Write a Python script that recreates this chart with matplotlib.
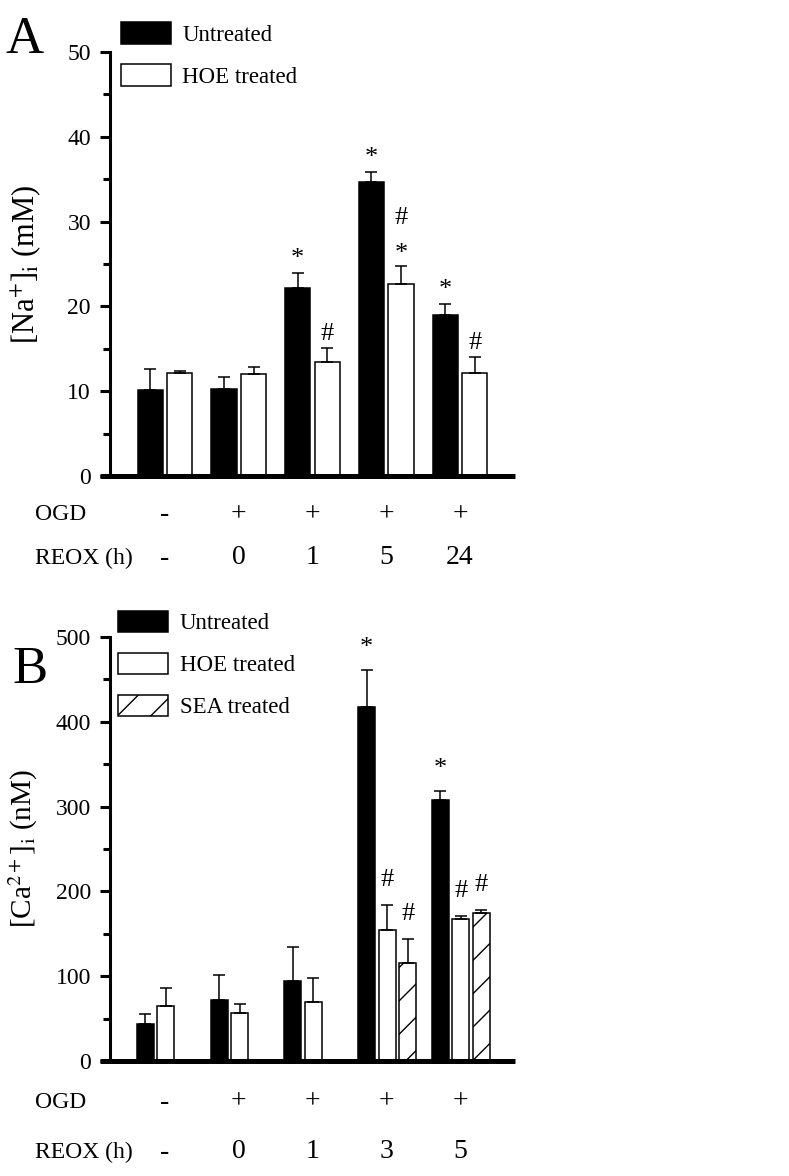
import numpy as np
import matplotlib
matplotlib.use("agg")
import matplotlib.pyplot as plt
from matplotlib.transforms import blended_transform_factory

plt.rcParams['font.family'] = ['Liberation Serif', 'DejaVu Serif']
plt.rcParams['mathtext.fontset'] = 'stix'
plt.rcParams['hatch.linewidth'] = 1.0

# ---- panel A : [Na+]i ----
na_untreated = [10.1, 10.3, 22.2, 34.7, 19.0]
na_untreated_err = [2.5, 1.4, 1.7, 1.1, 1.3]
na_hoe = [12.2, 12.0, 13.4, 22.6, 12.2]
na_hoe_err = [0.2, 0.8, 1.7, 2.2, 1.8]
na_marks_untreated = ['', '', '*', '*', '*']
na_marks_hoe = ['', '', '#', '*#', '#']
na_ogd = ['-', '+', '+', '+', '+']
na_reox = ['-', '0', '1', '5', '24']

# ---- panel B : [Ca2+]i ----
ca_untreated = [44, 72, 94, 417, 308]
ca_untreated_err = [12, 30, 40, 44, 10]
ca_hoe = [65, 57, 69, 155, 167]
ca_hoe_err = [21, 10, 29, 29, 4]
ca_sea = [np.nan, np.nan, np.nan, 116, 175]
ca_sea_err = [np.nan, np.nan, np.nan, 28, 3]
ca_marks_untreated = ['', '', '', '*', '*']
ca_marks_hoe = ['', '', '', '#', '#']
ca_marks_sea = ['', '', '', '#', '#']
ca_ogd = ['-', '+', '+', '+', '+']
ca_reox = ['-', '0', '1', '3', '5']

W, H = 789, 1176
fig = plt.figure(figsize=(W / 100, H / 100), dpi=100)


def pt(p):
    # pixels -> points at 100 dpi
    return p * 0.72


def setup(ax, ymax, major, minor):
    ax.set_xlim(-0.746, 4.746)
    ax.set_ylim(0, ymax)
    for s in ['top', 'right', 'bottom']:
        ax.spines[s].set_visible(False)
    ax.spines['left'].set_linewidth(2.2)
    ax.set_xticks([])
    ax.set_yticks(np.arange(0, ymax + 1, major))
    ax.set_yticks(np.arange(0, ymax + 1, minor), minor=True)
    ax.tick_params(axis='y', which='major', direction='out', length=pt(10),
                   width=2.2, labelsize=17, pad=pt(9))
    ax.tick_params(axis='y', which='minor', direction='out', length=pt(7),
                   width=2.2)
    ax.plot([-0.88, 4.746], [0, 0], color='k', lw=3.6, clip_on=False,
            solid_capstyle='butt', zorder=6)


def bars(ax, x, vals, errs, marks, width, base, label, **kw):
    x = np.asarray(x, float)
    vals = np.asarray(vals, float)
    errs = np.asarray(errs, float)
    ok = ~np.isnan(vals)
    ax.bar(x[ok], vals[ok], width, edgecolor='k', linewidth=1.1,
           label=label, zorder=3, **kw)
    ax.errorbar(x[ok], vals[ok], yerr=[np.zeros(ok.sum()), errs[ok]],
                fmt='none', ecolor='k', elinewidth=1.1, capsize=pt(6),
                capthick=1.1, zorder=4)
    for xi, v, e, m in zip(x, vals, errs, marks):
        off = base
        for sym in m:
            shift = -10 if sym == '*' else -8
            ax.annotate(sym, xy=(xi, v + e), xytext=(0, pt(off + shift)),
                        textcoords='offset points', ha='center',
                        va='baseline', fontsize=19)
            off += 34


def rows(ax, ogd, reox, d1, d2):
    trans = blended_transform_factory(ax.transData, ax.transAxes)
    for i, (o, r) in enumerate(zip(ogd, reox)):
        ax.annotate(o, xy=(i, 0), xycoords=trans, xytext=(0, -pt(d1)),
                    textcoords='offset points', ha='center', va='center',
                    fontsize=20)
        ax.annotate(r, xy=(i, 0), xycoords=trans, xytext=(0, -pt(d2)),
                    textcoords='offset points', ha='center', va='center',
                    fontsize=20)
    ax.annotate('OGD', xy=(-1.763, 0), xycoords=trans, xytext=(0, -pt(d1)),
                textcoords='offset points', ha='left', va='center',
                fontsize=17, annotation_clip=False)
    ax.annotate('REOX (h)', xy=(-1.763, 0), xycoords=trans,
                xytext=(0, -pt(d2)), textcoords='offset points', ha='left',
                va='center', fontsize=17, annotation_clip=False)


legend_kw = dict(loc='upper left', frameon=False, fontsize=16.5,
                 handlelength=2.18, handleheight=1.08, labelspacing=0.8,
                 handletextpad=0.5, borderpad=0, borderaxespad=0)

# ---------------- panel A ----------------
axA = fig.add_axes([110 / W, 1 - 476 / H, 405 / W, 424 / H])
setup(axA, 50, 10, 5)
g = np.arange(5)
bars(axA, g - 0.2, na_untreated, na_untreated_err, na_marks_untreated,
     0.34, 18, 'Untreated', color='k')
bars(axA, g + 0.2, na_hoe, na_hoe_err, na_marks_hoe,
     0.34, 16, 'HOE treated', color='w')
axA.set_ylabel(r'[Na$^{+}$]$_{\rm i}$ (mM)', fontsize=22)
axA.yaxis.set_label_coords(-0.165, 0.5)
rows(axA, na_ogd, na_reox, 39, 82)
axA.legend(bbox_to_anchor=(0.027, 1.07), **legend_kw)
fig.text(6 / W, 1 - 53 / H, 'A', fontsize=38, ha='left', va='baseline')

# ---------------- panel B ----------------
axB = fig.add_axes([110 / W, 1 - 1061 / H, 405 / W, 424 / H])
setup(axB, 500, 100, 50)
bars(axB, g - 0.265, ca_untreated, ca_untreated_err, ca_marks_untreated,
     0.23, 26, 'Untreated', color='k')
bars(axB, g + 0.013, ca_hoe, ca_hoe_err, ca_marks_hoe,
     0.23, 27, 'HOE treated', color='w')
bars(axB, g + 0.291, ca_sea, ca_sea_err, ca_marks_sea,
     0.23, 27, 'SEA treated', color='w', hatch='/')
axB.set_ylabel(r'[Ca$^{2+}$]$_{\rm i}$ (nM)', fontsize=21)
axB.yaxis.set_label_coords(-0.172, 0.5)
rows(axB, ca_ogd, ca_reox, 41, 91)
axB.legend(bbox_to_anchor=(0.02, 1.062), **legend_kw)
fig.text(12 / W, 1 - 683 / H, 'B', fontsize=38, ha='left', va='baseline')

fig.savefig('out.png', dpi=100)
